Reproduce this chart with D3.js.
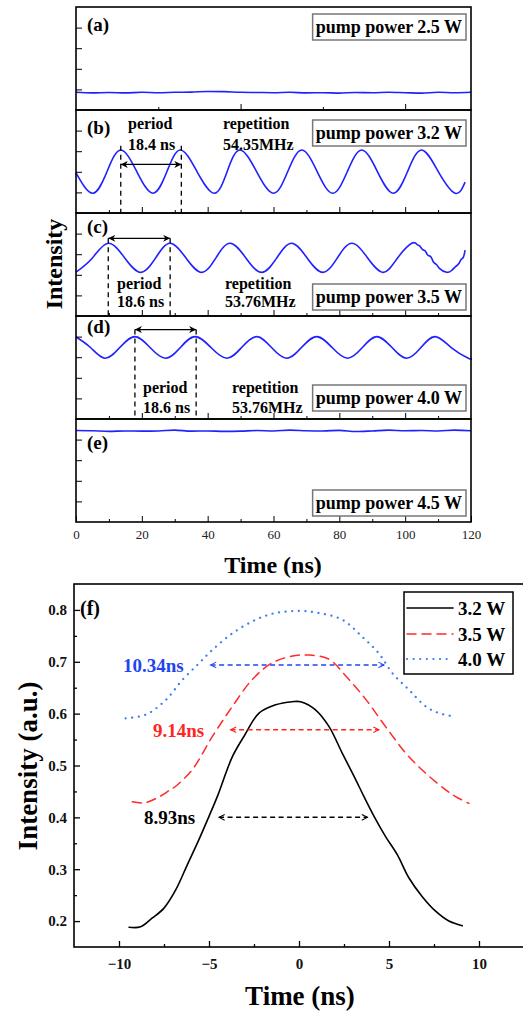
<!DOCTYPE html>
<html>
<head>
<meta charset="utf-8">
<script src="https://cdn.jsdelivr.net/npm/d3@7"></script>
<style>
body { margin: 0; background: #fff; }
text { font-family: "Liberation Serif", "Times New Roman", serif; }
</style>
</head>
<body>
<script>
// ---- data ----
// top figure: time traces, intensity in arbitrary panel units (0..5)
var timeTicks = [0, 20, 40, 60, 80, 100, 120];
var timeMinor = [10, 30, 50, 70, 90, 110];
var panelIds = ["(a)", "(b)", "(c)", "(d)", "(e)"];
var pumpLabels = ["pump power 2.5 W", "pump power 3.2 W", "pump power 3.5 W", "pump power 4.0 W", "pump power 4.5 W"];

var flatTime = [0, 5, 10, 15, 20, 25, 30, 35, 40, 45, 50, 55, 60, 65, 70, 75, 80, 85, 90, 95, 100, 105, 110, 115, 120];
var traceA = [0.86, 0.83, 0.85, 0.83, 0.86, 0.84, 0.86, 0.87, 0.90, 0.89, 0.86, 0.85, 0.84, 0.86, 0.83, 0.84, 0.82, 0.85, 0.84, 0.86, 0.84, 0.82, 0.86, 0.84, 0.86];
var traceE = [4.44, 4.43, 4.40, 4.42, 4.41, 4.42, 4.46, 4.41, 4.42, 4.40, 4.41, 4.44, 4.42, 4.46, 4.43, 4.42, 4.45, 4.39, 4.42, 4.46, 4.43, 4.44, 4.42, 4.46, 4.43];

var timeB = [0, 5.1, 9.4, 13.6, 18.5, 23.4, 27.6, 31.7, 36.8, 42, 45.9, 49.8, 54.9, 60, 64.3, 68.6, 73.3, 78, 82.4, 86.8, 91.6, 96.4, 100.7, 105, 110.1, 115.2, 118.2];
var traceB = [1.95, 0.96, 2.0, 3.06, 2.0, 0.96, 2.0, 3.06, 2.0, 0.96, 2.0, 3.06, 2.0, 0.96, 2.0, 3.06, 2.0, 0.96, 2.0, 3.06, 2.0, 0.96, 2.0, 3.06, 2.0, 0.96, 1.5];

var timeC = [0, 5, 9.8, 14.8, 19.7, 24.2, 28.6, 33.4, 38.2, 42.5, 46.8, 51.6, 56.4, 61, 65.5, 70.2, 75, 79.4, 83.8, 88.6, 93.4, 97.7, 102, 103.6, 104.4, 105.3, 106.1, 106.9, 107.8, 108.6, 109.5, 110.5, 112.6, 114.2, 115.3, 116.2, 117.0, 117.7, 118.2];
var traceC = [2.13, 2.82, 3.53, 2.82, 2.12, 2.82, 3.53, 2.82, 2.12, 2.82, 3.53, 2.82, 2.12, 2.82, 3.53, 2.82, 2.12, 2.82, 3.53, 2.82, 2.12, 2.82, 3.53, 3.47, 3.40, 3.22, 3.16, 2.95, 2.88, 2.62, 2.50, 2.30, 2.12, 2.22, 2.40, 2.52, 2.74, 2.86, 3.20];

var timeD = [0, 4.4, 8.8, 13.3, 17.9, 22.5, 27.2, 31.7, 36.2, 41, 45.8, 50.3, 54.9, 59.4, 64, 68.5, 73.1, 77.8, 82.5, 87, 91.4, 96, 100.5, 104.8, 109.1, 114, 119.2, 120];
var traceD = [3.98, 3.47, 2.95, 3.47, 4.0, 3.47, 2.95, 3.47, 4.0, 3.47, 2.95, 3.47, 4.0, 3.47, 2.95, 3.47, 4.0, 3.47, 2.95, 3.47, 4.0, 3.47, 2.95, 3.47, 4.0, 3.47, 2.95, 2.95];

var periodStart = [13.6, 9.8, 17.9];
var periodEnd = [32.0, 28.6, 36.5];
var periodText = ["18.4 ns", "18.6 ns", "18.6 ns"];
var repText = ["54.35MHz", "53.76MHz", "53.76MHz"];

// bottom figure: single pulses
var pulseNames = ["3.2 W", "3.5 W", "4.0 W"];
var pulseT32 = [-9.44, -8.8, -8.15, -7.5, -6.85, -6.2, -5.56, -5.0, -4.54, -3.7, -3.06, -2.22, -1.3, -0.37, 0.09, 0.93, 1.67, 2.4, 3.06, 3.61, 4.17, 4.81, 5.46, 6.11, 6.85, 7.59, 8.33, 9.07];
var pulseI32 = [0.188, 0.189, 0.206, 0.225, 0.26, 0.309, 0.357, 0.402, 0.44, 0.517, 0.556, 0.601, 0.617, 0.623, 0.623, 0.607, 0.575, 0.524, 0.479, 0.44, 0.402, 0.363, 0.328, 0.283, 0.247, 0.219, 0.2, 0.191];
var pulseT35 = [-9.26, -8.6, -7.9, -7.2, -6.85, -5.93, -4.81, -3.7, -2.59, -1.48, -0.37, 0.56, 1.67, 2.59, 3.7, 4.81, 5.93, 7.04, 8.15, 8.7, 9.44];
var pulseI35 = [0.43, 0.428, 0.437, 0.452, 0.46, 0.492, 0.556, 0.614, 0.666, 0.698, 0.711, 0.713, 0.705, 0.673, 0.628, 0.575, 0.524, 0.485, 0.453, 0.44, 0.427];
var pulseT40 = [-9.63, -8.52, -7.41, -6.48, -5.56, -4.81, -3.7, -2.41, -1.3, 0, 1.11, 2.41, 3.52, 4.44, 5.19, 6.11, 7.04, 7.78, 8.7];
var pulseI40 = [0.591, 0.598, 0.626, 0.665, 0.697, 0.723, 0.755, 0.781, 0.794, 0.798, 0.794, 0.781, 0.748, 0.716, 0.678, 0.646, 0.614, 0.601, 0.594];

var fwhmText = ["8.93ns", "9.14ns", "10.34ns"];
var fwhmLevel = [0.40, 0.569, 0.694];
var fwhmFrom = [-4.44, -3.8, -4.91];
var fwhmTo = [3.8, 4.44, 4.72];

var pulseTicks = [-10, -5, 0, 5, 10];
var pulseMinor = [-7.5, -2.5, 2.5, 7.5];
var intensityTicks = [0.2, 0.3, 0.4, 0.5, 0.6, 0.7, 0.8];
var intensityMinor = [0.25, 0.35, 0.45, 0.55, 0.65, 0.75];

// ---- drawing ----
var W = 523, H = 1013;
var blueLine = "#2121ff";
var svg = d3.select("body").append("svg").attr("width", W).attr("height", H);

var defs = svg.append("defs");
defs.append("marker").attr("id", "headBlack")
	.attr("viewBox", "0 0 10 10").attr("refX", 10).attr("refY", 5)
	.attr("markerUnits", "userSpaceOnUse").attr("markerWidth", 9).attr("markerHeight", 7)
	.attr("orient", "auto-start-reverse")
	.append("path").attr("d", "M0,0L10,5L0,10L3,5z").attr("fill", "#000");

var fwhmColors = ["#000000", "#ff2424", "#1f45f0"];
fwhmColors.forEach(function(c, i) {
	defs.append("marker").attr("id", "chev" + i)
		.attr("viewBox", "0 0 10 10").attr("refX", 9).attr("refY", 5)
		.attr("markerUnits", "userSpaceOnUse").attr("markerWidth", 9).attr("markerHeight", 7)
		.attr("orient", "auto-start-reverse")
		.append("path").attr("d", "M1,1L9,5L1,9").attr("fill", "none")
		.attr("stroke", c).attr("stroke-width", 1.5);
});

// top figure
var tx = d3.scaleLinear().domain([0, 120]).range([76, 471]);
var panelTop = [7, 110, 213, 316, 419];
var panelH = 103;
var traces = [
	{t: flatTime, v: traceA, curve: d3.curveMonotoneX},
	{t: timeB, v: traceB, curve: d3.curveNatural},
	{t: timeC, v: traceC, curve: d3.curveNatural},
	{t: timeD, v: traceD, curve: d3.curveNatural},
	{t: flatTime, v: traceE, curve: d3.curveMonotoneX}
];
// per-panel layout: label baseline, pump box top, annotation rows
var idBase = [31, 134, 233, 333, 449];
var boxTop = [14, 120, 284, 385, 490];
var arrowVal = [null, 2.36, 3.77, 4.34];
var dashTopVal = [null, 3.27, 3.77, 4.34];
var annPeriodX = [null, 128, 117, 143];
var annRepX = [null, 223, 225, 232];
var annRow1 = [null, 129, 289, 393];
var annRow2 = [null, 150, 307, 413];

panelTop.forEach(function(top, i) {
	var y = d3.scaleLinear().domain([0, 5]).range([top + panelH, top]);
	var g = svg.append("g");

	// trace
	var line = d3.line()
		.x(function(d, k) { return tx(traces[i].t[k]); })
		.y(function(d) { return y(d); })
		.curve(traces[i].curve);
	g.append("path").datum(traces[i].v)
		.attr("d", line).attr("fill", "none")
		.attr("stroke", blueLine).attr("stroke-width", 1.6);

	// inward ticks
	var major = i === 0 ? [50, 100] : [20, 40, 60, 80, 100];
	var minor = i === 0 ? [25, 75] : timeMinor;
	var xa = g.append("g").attr("transform", "translate(0," + (top + panelH) + ")");
	if (i === 4) {
		xa.call(d3.axisBottom(tx).tickValues(timeTicks).tickSize(-6).tickPadding(8));
	} else {
		xa.call(d3.axisBottom(tx).tickValues(major).tickSize(-6).tickFormat(""));
	}
	g.append("g").attr("transform", "translate(0," + (top + panelH) + ")")
		.call(d3.axisBottom(tx).tickValues(minor).tickSize(-3).tickFormat(""));
	g.append("g").attr("transform", "translate(" + tx(0) + ",0)")
		.call(d3.axisLeft(y).tickValues([1, 2, 3, 4]).tickSize(-6).tickFormat(""));

	// frame
	g.append("rect").attr("x", tx(0)).attr("y", top)
		.attr("width", tx(120) - tx(0)).attr("height", panelH)
		.attr("fill", "none").attr("stroke", "#000").attr("stroke-width", 1.6);

	g.append("text").attr("x", 87).attr("y", idBase[i])
		.attr("font-size", 19).attr("font-weight", "bold").text(panelIds[i]);

	// pump power box
	var box = g.append("rect");
	var lbl = g.append("text").attr("x", 466 - 4).attr("y", boxTop[i] + 19)
		.attr("text-anchor", "end").attr("font-size", 18).attr("font-weight", "bold")
		.text(pumpLabels[i]);
	var bb = lbl.node().getBBox();
	box.attr("x", bb.x - 3).attr("y", boxTop[i]).attr("width", 466 - bb.x + 3).attr("height", 26)
		.attr("fill", "#fff").attr("stroke", "#777").attr("stroke-width", 1.5);

	// period annotation
	if (i >= 1 && i <= 3) {
		var k = i - 1;
		[periodStart[k], periodEnd[k]].forEach(function(t) {
			g.append("line").attr("x1", tx(t)).attr("x2", tx(t))
				.attr("y1", y(dashTopVal[i])).attr("y2", y(0))
				.attr("stroke", "#000").attr("stroke-width", 1.3).attr("stroke-dasharray", "5,4");
		});
		g.append("line").attr("x1", tx(periodStart[k])).attr("x2", tx(periodEnd[k]))
			.attr("y1", y(arrowVal[i])).attr("y2", y(arrowVal[i]))
			.attr("stroke", "#000").attr("stroke-width", 1.3)
			.attr("marker-start", "url(#headBlack)").attr("marker-end", "url(#headBlack)");
		var ann = [["period", annPeriodX[i], annRow1[i]], [periodText[k], annPeriodX[i], annRow2[i]],
			["repetition", annRepX[i], annRow1[i]], [repText[k], annRepX[i], annRow2[i]]];
		ann.forEach(function(a) {
			g.append("text").attr("x", a[1]).attr("y", a[2])
				.attr("font-size", 16).attr("font-weight", "bold").text(a[0]);
		});
	}
});

svg.selectAll(".tick text").attr("font-family", "Liberation Serif").attr("font-size", 13).attr("fill", "#222");
svg.selectAll(".domain").remove();

svg.append("text").attr("x", 273).attr("y", 573).attr("text-anchor", "middle")
	.attr("font-size", 24).attr("font-weight", "bold").text("Time (ns)");
svg.append("text").attr("transform", "translate(62,264) rotate(-90)").attr("text-anchor", "middle")
	.attr("font-size", 24).attr("font-weight", "bold").text("Intensity");

// bottom figure
var bx = d3.scaleLinear().domain([-12.5, 12.5]).range([74, 524]);
var by = d3.scaleLinear().domain([0.15, 0.85]).range([947, 584]);
var bg = svg.append("g");

bg.append("g").attr("transform", "translate(0,947)")
	.call(d3.axisBottom(bx).tickValues(pulseTicks).tickSize(-6).tickPadding(11).tickFormat(d3.format("d")))
	.call(function(a) { a.select(".domain").remove(); });
bg.append("g").attr("transform", "translate(0,947)")
	.call(d3.axisBottom(bx).tickValues(pulseMinor).tickSize(-3).tickFormat(""))
	.call(function(a) { a.select(".domain").remove(); });
bg.append("g").attr("transform", "translate(74,0)")
	.call(d3.axisLeft(by).tickValues(intensityTicks).tickSize(-6).tickPadding(7).tickFormat(d3.format(".1f")))
	.call(function(a) { a.select(".domain").remove(); });
bg.append("g").attr("transform", "translate(74,0)")
	.call(d3.axisLeft(by).tickValues(intensityMinor).tickSize(-3).tickFormat(""))
	.call(function(a) { a.select(".domain").remove(); });
bg.selectAll(".tick text").attr("font-family", "Liberation Serif").attr("font-size", 15)
	.attr("font-weight", "bold").attr("fill", "#111");
bg.selectAll(".tick line").attr("stroke-width", 1.3);

bg.append("rect").attr("x", 74).attr("y", 584).attr("width", 450).attr("height", 363)
	.attr("fill", "none").attr("stroke", "#000").attr("stroke-width", 1.6);

var pulses = [
	{t: pulseT32, v: pulseI32, color: "#000000", dash: null, width: 1.6},
	{t: pulseT35, v: pulseI35, color: "#ff2a2a", dash: "9,6", width: 1.5},
	{t: pulseT40, v: pulseI40, color: "#3a7ff0", dash: "0.1,6.5", width: 2.2}
];
pulses.forEach(function(p) {
	var line = d3.line()
		.x(function(d, k) { return bx(p.t[k]); })
		.y(function(d) { return by(d); })
		.curve(d3.curveCatmullRom);
	bg.append("path").datum(p.v).attr("d", line).attr("fill", "none")
		.attr("stroke", p.color).attr("stroke-width", p.width)
		.attr("stroke-linecap", "round")
		.attr("stroke-dasharray", p.dash);
});

// FWHM arrows
var fwhmLabelX = [144, 153, 123];
fwhmText.forEach(function(txt, i) {
	bg.append("line").attr("x1", bx(fwhmFrom[i])).attr("x2", bx(fwhmTo[i]))
		.attr("y1", by(fwhmLevel[i])).attr("y2", by(fwhmLevel[i]))
		.attr("stroke", fwhmColors[i]).attr("stroke-width", 1.5).attr("stroke-dasharray", "5,3.5")
		.attr("marker-start", "url(#chev" + i + ")").attr("marker-end", "url(#chev" + i + ")");
	bg.append("text").attr("x", fwhmLabelX[i]).attr("y", by(fwhmLevel[i]) + 7)
		.attr("font-size", 19).attr("font-weight", "bold").attr("fill", fwhmColors[i]).text(txt);
});

bg.append("text").attr("x", 80).attr("y", 615).attr("font-size", 20).attr("font-weight", "bold").text("(f)");

// legend
var leg = bg.append("g");
leg.append("rect").attr("x", 404).attr("y", 592).attr("width", 109).attr("height", 82)
	.attr("fill", "#fff").attr("stroke", "#000").attr("stroke-width", 1.5);
var legY = [608, 634, 659];
pulses.forEach(function(p, i) {
	leg.append("line").attr("x1", 407).attr("x2", 453).attr("y1", legY[i]).attr("y2", legY[i])
		.attr("stroke", p.color).attr("stroke-width", p.width)
		.attr("stroke-linecap", "round").attr("stroke-dasharray", p.dash);
	leg.append("text").attr("x", 458).attr("y", legY[i] + 7)
		.attr("font-size", 19).attr("font-weight", "bold").text(pulseNames[i]);
});

bg.append("text").attr("x", 300).attr("y", 1005).attr("text-anchor", "middle")
	.attr("font-size", 27).attr("font-weight", "bold").text("Time (ns)");
bg.append("text").attr("transform", "translate(37,766) rotate(-90)").attr("text-anchor", "middle")
	.attr("font-size", 27).attr("font-weight", "bold").text("Intensity (a.u.)");
</script>
</body>
</html>
